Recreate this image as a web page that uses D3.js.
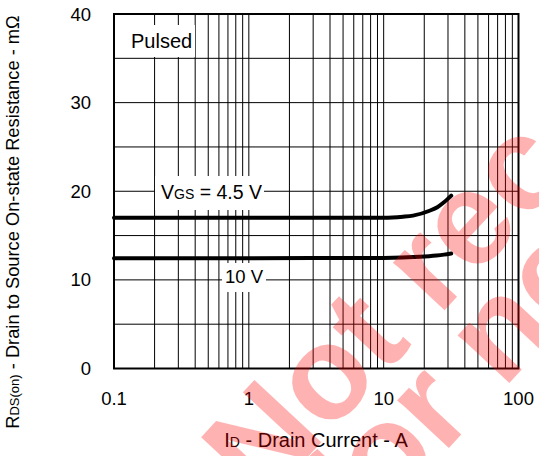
<!DOCTYPE html>
<html>
<head>
<meta charset="utf-8">
<script src="https://cdn.jsdelivr.net/npm/d3@7"></script>
<style>
  body { margin: 0; background: #fff; }
  text { font-family: "Liberation Sans", Arial, sans-serif; }
</style>
</head>
<body>
<svg id="chart" width="539" height="456"></svg>
<script>
// drain current (A) vs on-state resistance (mOhm)
const id45 = [0.1, 1, 5, 10, 13.9, 16.5, 21.9, 25, 28, 31.7];
const r45 = [17.0, 17.0, 17.0, 17.0, 17.12, 17.25, 17.8, 18.2, 18.75, 19.5];
const id10 = [0.1, 1, 10, 18.5, 24.6, 28, 31.7];
const r10 = [12.45, 12.45, 12.47, 12.6, 12.75, 12.85, 12.97];

const xTicks = [0.1, 1, 10, 100];
const xTickLabels = ["0.1", "1", "10", "100"];
const yTicks = [0, 10, 20, 30, 40];

const width = 539;
const height = 456;
const margin = { top: 14, right: 20.5, bottom: 87.5, left: 114 };

const svg = d3.select("#chart");

const x = d3.scaleLog().domain([0.1, 100]).range([margin.left, width - margin.right]);
const y = d3.scaleLinear().domain([0, 40]).range([height - margin.bottom, margin.top]);

// grid
const minorX = [];
[0.1, 1, 10].forEach((dec) => {
  for (let k = 1; k <= 9; k++) minorX.push(dec * k);
});
svg
  .append("g")
  .selectAll("line")
  .data(minorX)
  .join("line")
  .attr("x1", (d) => x(d))
  .attr("x2", (d) => x(d))
  .attr("y1", y(40))
  .attr("y2", y(0))
  .attr("stroke", "#000")
  .attr("stroke-width", 1);

svg
  .append("g")
  .selectAll("line")
  .data(d3.range(0, 41, 5))
  .join("line")
  .attr("x1", x(0.1))
  .attr("x2", x(100))
  .attr("y1", (d) => y(d))
  .attr("y2", (d) => y(d))
  .attr("stroke", "#000")
  .attr("stroke-width", 1);

// label boxes
const boxes = [
  { x: 125, y: 25, w: 70, h: 32 },
  { x: 155, y: 176, w: 109, h: 34 },
  { x: 222, y: 263, w: 44, h: 29 },
];
svg
  .append("g")
  .selectAll("rect")
  .data(boxes)
  .join("rect")
  .attr("x", (d) => d.x)
  .attr("y", (d) => d.y)
  .attr("width", (d) => d.w)
  .attr("height", (d) => d.h)
  .attr("fill", "#fff");

// frame
svg
  .append("rect")
  .attr("x", x(0.1))
  .attr("y", y(40))
  .attr("width", x(100) - x(0.1))
  .attr("height", y(0) - y(40))
  .attr("fill", "none")
  .attr("stroke", "#000")
  .attr("stroke-width", 2);

// curves
const line = d3
  .line()
  .x((d) => x(d[0]))
  .y((d) => y(d[1]))
  .curve(d3.curveMonotoneX);

[d3.zip(id45, r45), d3.zip(id10, r10)].forEach((pts) => {
  svg
    .append("path")
    .datum(pts)
    .attr("fill", "none")
    .attr("stroke", "#000")
    .attr("stroke-width", 4)
    .attr("stroke-linecap", "round")
    .attr("d", line);
});

// axes labels
svg
  .append("g")
  .selectAll("text")
  .data(yTicks)
  .join("text")
  .attr("x", 91)
  .attr("y", (d) => y(d) + 6.5)
  .attr("text-anchor", "end")
  .attr("font-size", 18.5)
  .text((d) => d);

svg
  .append("g")
  .selectAll("text")
  .data(xTicks)
  .join("text")
  .attr("x", (d) => x(d))
  .attr("y", 405)
  .attr("text-anchor", "middle")
  .attr("font-size", 18.5)
  .text((d, i) => xTickLabels[i]);

const xt = svg
  .append("text")
  .attr("x", 316)
  .attr("y", 447)
  .attr("text-anchor", "middle")
  .attr("font-size", 20);
xt.append("tspan").text("I");
xt.append("tspan").attr("font-size", 14).text("D");
xt.append("tspan").text(" - Drain Current - A");

const yt = svg
  .append("text")
  .attr("transform", "translate(19,222) rotate(-90)")
  .attr("text-anchor", "middle")
  .attr("font-size", 18.3);
yt.append("tspan").text("R");
yt.append("tspan").attr("font-size", 13).text("DS(on)");
yt.append("tspan").text(" - Drain to Source On-state Resistance - mΩ");

svg.append("text").attr("x", 131).attr("y", 48).attr("font-size", 20).text("Pulsed");

const vl = svg.append("text").attr("x", 161).attr("y", 199).attr("font-size", 19.5);
vl.append("tspan").text("V");
vl.append("tspan").attr("font-size", 14).text("GS");
vl.append("tspan").text(" = 4.5 V");

svg.append("text").attr("x", 225).attr("y", 283).attr("font-size", 18.5).text("10 V");

// watermark
const wm = svg
  .append("g")
  .attr("transform", "translate(262,506) rotate(-47)")
  .attr("fill", "#ff0000")
  .attr("fill-opacity", 0.3)
  .attr("font-weight", "bold")
  .attr("font-size", 133);
wm.append("text").attr("x", 0).attr("y", 0).text("Not recommended");
wm.append("text").attr("x", 35).attr("y", 97).text("for new design");
</script>
</body>
</html>
